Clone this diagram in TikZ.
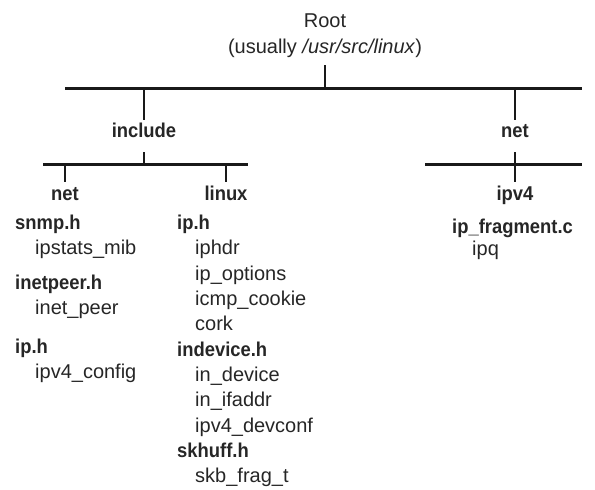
\documentclass[tikz,border=0pt]{standalone}
\usepackage{fontspec}
\setmainfont{Liberation Sans}[BoldFeatures={FakeStretch=0.92}]
\begin{document}
\begin{tikzpicture}[x=1pt,y=-1pt,
  lbl/.style={inner sep=0pt,font=\fontsize{20}{23}\selectfont,text=black!85},
  bl/.style={lbl,font=\fontsize{20}{23}\selectfont\bfseries},
  hd/.style={bl,anchor=mid west},
  it/.style={lbl,anchor=mid west},
  ctr/.style={bl,anchor=mid},
  bar/.style={line width=3pt,black!90},
  tick/.style={line width=2.5pt,black!90}]
\useasboundingbox (0,0) rectangle (595,490);
% top
\node[lbl,anchor=mid] (root) at (325,25) {Root};
\node[lbl,anchor=mid] (usual) at (325,51) {(usually \textit{/usr/src/linux})};
\coordinate (rootb) at (325,65);
\coordinate (h1l) at (65,88);
\coordinate (h1r) at (582,88);
\coordinate (h1c) at (325,88);
\draw[bar] (h1l) -- (h1r);
\draw[tick] (rootb) -- (h1c);
% include / net
\node[ctr] (include) at (144,135) {include};
\node[ctr] (net) at (515,135) {net};
\coordinate (incT) at (144,88);
\coordinate (incB) at (144,120);
\coordinate (netT) at (515,88);
\coordinate (netB) at (515,120);
\draw[tick] (incT) -- (incB);
\draw[tick] (netT) -- (netB);
% include subtree
\coordinate (h2l) at (43,164);
\coordinate (h2r) at (248,164);
\coordinate (h2c) at (144,164);
\coordinate (incS) at (144,152);
\draw[bar] (h2l) -- (h2r);
\draw[tick] (incS) -- (h2c);
\coordinate (t1a) at (65,164);
\coordinate (t1b) at (65,182);
\coordinate (t2a) at (226,164);
\coordinate (t2b) at (226,182);
\draw[tick] (t1a) -- (t1b);
\draw[tick] (t2a) -- (t2b);
\node[ctr] (inet) at (65,198) {net};
\node[ctr] (linux) at (226,198) {linux};
% net subtree
\coordinate (h3l) at (425,164);
\coordinate (h3r) at (582,164);
\coordinate (netS) at (515,152);
\coordinate (netE) at (515,182);
\draw[bar] (h3l) -- (h3r);
\draw[tick] (netS) -- (netE);
\node[ctr] (ipv4) at (515,198) {ipv4};
\node[hd] (ipfrag) at (452,231) {ip\_fragment.c};
\node[it] (ipq) at (472,253) {ipq};
% left column
\node[hd] (snmp) at (15,227) {snmp.h};
\node[it] (ipstats) at (35,252) {ipstats\_mib};
\node[hd] (inetpeer) at (15,287) {inetpeer.h};
\node[it] (inetp) at (35,312) {inet\_peer};
\node[hd] (iph) at (15,351) {ip.h};
\node[it] (ipv4c) at (35,376) {ipv4\_config};
% right column
\node[hd] (liph) at (177,227) {ip.h};
\node[it] (iphdr) at (195,252.3) {iphdr};
\node[it] (ipopt) at (195,277.6) {ip\_options};
\node[it] (icmp) at (195,302.9) {icmp\_cookie};
\node[it] (cork) at (195,328.2) {cork};
\node[hd] (indev) at (177,353.5) {indevice.h};
\node[it] (indevice) at (195,378.8) {in\_device};
\node[it] (inifaddr) at (195,404.1) {in\_ifaddr};
\node[it] (devconf) at (195,429.4) {ipv4\_devconf};
\node[hd] (skhuff) at (177,454.7) {skhuff.h};
\node[it] (skb) at (195,480) {skb\_frag\_t};
\end{tikzpicture}
\end{document}
